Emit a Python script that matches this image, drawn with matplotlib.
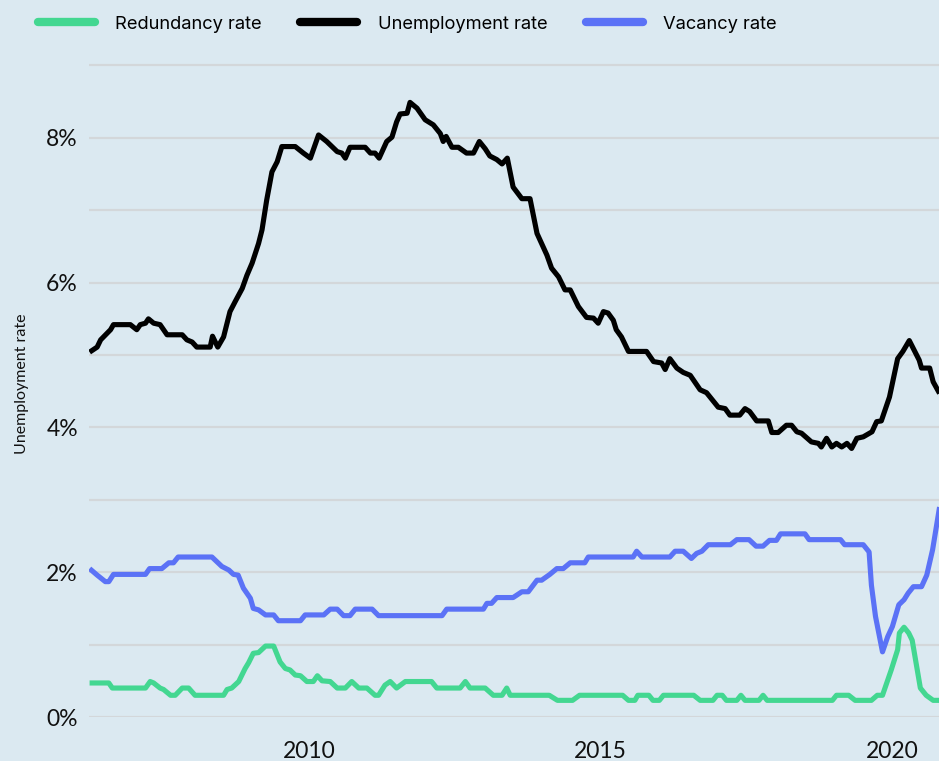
import numpy as np
import matplotlib
matplotlib.use("Agg")
import matplotlib.pyplot as plt

# values (decimal year, percent)
unemp_years = [2006.23, 2006.36, 2006.42, 2006.59, 2006.64, 2006.93, 2007.04, 2007.10, 2007.19, 2007.24,
               2007.33, 2007.44, 2007.56, 2007.82, 2007.90, 2007.99, 2008.07, 2008.30, 2008.34, 2008.43,
               2008.53, 2008.64, 2008.73, 2008.85, 2008.93, 2009.02, 2009.13, 2009.19, 2009.27, 2009.36,
               2009.45, 2009.53, 2009.76, 2009.90, 2010.02, 2010.16, 2010.30, 2010.48, 2010.56, 2010.62,
               2010.70, 2010.96, 2011.05, 2011.13, 2011.20, 2011.33, 2011.42, 2011.50, 2011.56, 2011.68,
               2011.73, 2011.85, 2011.99, 2012.13, 2012.25, 2012.30, 2012.35, 2012.45, 2012.56, 2012.70,
               2012.82, 2012.92, 2013.02, 2013.10, 2013.22, 2013.31, 2013.40, 2013.50, 2013.65, 2013.79,
               2013.91, 2014.08, 2014.16, 2014.28, 2014.39, 2014.48, 2014.62, 2014.76, 2014.88, 2014.96,
               2015.05, 2015.13, 2015.22, 2015.27, 2015.36, 2015.48, 2015.79, 2015.91, 2016.05, 2016.11,
               2016.19, 2016.31, 2016.42, 2016.54, 2016.71, 2016.82, 2017.02, 2017.14, 2017.22, 2017.39,
               2017.48, 2017.56, 2017.68, 2017.88, 2017.94, 2018.05, 2018.19, 2018.28, 2018.37, 2018.45,
               2018.62, 2018.74, 2018.79, 2018.88, 2018.97, 2019.05, 2019.14, 2019.23, 2019.31, 2019.40,
               2019.51, 2019.66, 2019.74, 2019.82, 2019.96, 2020.10, 2020.19, 2020.30, 2020.47, 2020.51,
               2020.65, 2020.71, 2020.82]
unemp_rate = [5.04, 5.11, 5.21, 5.35, 5.42, 5.42, 5.35, 5.42, 5.44, 5.50,
              5.44, 5.42, 5.28, 5.28, 5.21, 5.18, 5.11, 5.11, 5.26, 5.11,
              5.25, 5.60, 5.74, 5.92, 6.10, 6.27, 6.54, 6.73, 7.14, 7.53,
              7.67, 7.88, 7.88, 7.79, 7.72, 8.04, 7.95, 7.81, 7.79, 7.72,
              7.87, 7.87, 7.79, 7.79, 7.72, 7.95, 8.01, 8.22, 8.33, 8.34,
              8.49, 8.41, 8.25, 8.18, 8.06, 7.95, 8.02, 7.87, 7.87, 7.79,
              7.79, 7.95, 7.85, 7.75, 7.70, 7.64, 7.72, 7.32, 7.16, 7.16,
              6.68, 6.38, 6.20, 6.08, 5.90, 5.90, 5.67, 5.52, 5.51, 5.44,
              5.60, 5.58, 5.48, 5.35, 5.25, 5.05, 5.05, 4.91, 4.89, 4.80,
              4.95, 4.82, 4.76, 4.72, 4.52, 4.48, 4.28, 4.26, 4.17, 4.17,
              4.26, 4.22, 4.09, 4.09, 3.93, 3.93, 4.03, 4.03, 3.94, 3.92,
              3.80, 3.78, 3.73, 3.85, 3.73, 3.78, 3.73, 3.78, 3.71, 3.85,
              3.87, 3.94, 4.08, 4.09, 4.42, 4.95, 5.05, 5.20, 4.93, 4.82,
              4.82, 4.63, 4.47]

redund_years = [2006.23, 2006.56, 2006.62, 2007.19, 2007.27, 2007.33, 2007.44, 2007.50, 2007.62, 2007.70,
                2007.82, 2007.93, 2008.04, 2008.53, 2008.59, 2008.67, 2008.79, 2008.90, 2008.96, 2009.04,
                2009.13, 2009.25, 2009.39, 2009.50, 2009.59, 2009.67, 2009.76, 2009.85, 2009.96, 2010.07,
                2010.14, 2010.22, 2010.36, 2010.48, 2010.62, 2010.73, 2010.85, 2010.99, 2011.13, 2011.19,
                2011.30, 2011.39, 2011.50, 2011.65, 2012.10, 2012.19, 2012.59, 2012.68, 2012.76, 2013.02,
                2013.16, 2013.31, 2013.39, 2013.45, 2014.12, 2014.26, 2014.52, 2014.64, 2015.38, 2015.48,
                2015.59, 2015.64, 2015.83, 2015.90, 2016.01, 2016.08, 2016.60, 2016.71, 2016.93, 2017.00,
                2017.09, 2017.16, 2017.34, 2017.41, 2017.48, 2017.72, 2017.79, 2017.86, 2018.98, 2019.05,
                2019.26, 2019.37, 2019.65, 2019.75, 2019.84, 2019.99, 2020.10, 2020.13, 2020.21, 2020.29,
                2020.35, 2020.49, 2020.59, 2020.71, 2020.82]
redund_rate = [0.47, 0.47, 0.40, 0.40, 0.49, 0.47, 0.40, 0.38, 0.30, 0.30,
               0.40, 0.40, 0.30, 0.30, 0.38, 0.40, 0.49, 0.67, 0.75, 0.88,
               0.89, 0.98, 0.98, 0.76, 0.67, 0.65, 0.58, 0.57, 0.49, 0.49,
               0.57, 0.50, 0.49, 0.40, 0.40, 0.49, 0.40, 0.40, 0.30, 0.30,
               0.44, 0.49, 0.40, 0.49, 0.49, 0.40, 0.40, 0.49, 0.40, 0.40,
               0.30, 0.30, 0.40, 0.30, 0.30, 0.23, 0.23, 0.30, 0.30, 0.23,
               0.23, 0.30, 0.30, 0.23, 0.23, 0.30, 0.30, 0.23, 0.23, 0.30,
               0.30, 0.23, 0.23, 0.30, 0.23, 0.23, 0.30, 0.23, 0.23, 0.30,
               0.30, 0.23, 0.23, 0.30, 0.30, 0.65, 0.93, 1.16, 1.24, 1.16,
               1.06, 0.40, 0.30, 0.23, 0.23]

vac_years = [2006.23, 2006.36, 2006.50, 2006.56, 2006.64, 2007.19, 2007.26, 2007.47, 2007.59, 2007.67,
             2007.75, 2008.33, 2008.50, 2008.62, 2008.70, 2008.78, 2008.87, 2008.93, 2008.99, 2009.04,
             2009.13, 2009.25, 2009.39, 2009.47, 2009.85, 2009.93, 2010.25, 2010.36, 2010.48, 2010.59,
             2010.70, 2010.79, 2011.08, 2011.19, 2012.28, 2012.36, 2012.99, 2013.05, 2013.13, 2013.22,
             2013.50, 2013.65, 2013.76, 2013.91, 2013.99, 2014.13, 2014.25, 2014.36, 2014.48, 2014.73,
             2014.79, 2015.56, 2015.62, 2015.71, 2016.19, 2016.28, 2016.42, 2016.56, 2016.65, 2016.74,
             2016.85, 2017.23, 2017.34, 2017.55, 2017.67, 2017.79, 2017.90, 2018.02, 2018.09, 2018.51,
             2018.58, 2019.12, 2019.19, 2019.51, 2019.61, 2019.65, 2019.72, 2019.84, 2019.93, 2020.01,
             2020.12, 2020.21, 2020.28, 2020.37, 2020.51, 2020.60, 2020.70, 2020.82]
vac_rate = [2.05, 1.96, 1.87, 1.87, 1.97, 1.97, 2.05, 2.05, 2.13, 2.13,
            2.21, 2.21, 2.08, 2.03, 1.97, 1.96, 1.78, 1.71, 1.64, 1.50,
            1.48, 1.41, 1.41, 1.33, 1.33, 1.41, 1.41, 1.49, 1.49, 1.40,
            1.40, 1.49, 1.49, 1.40, 1.40, 1.49, 1.49, 1.57, 1.57, 1.65,
            1.65, 1.73, 1.73, 1.89, 1.89, 1.97, 2.05, 2.05, 2.13, 2.13,
            2.21, 2.21, 2.29, 2.21, 2.21, 2.29, 2.29, 2.19, 2.26, 2.29,
            2.38, 2.38, 2.45, 2.45, 2.36, 2.36, 2.44, 2.44, 2.53, 2.53,
            2.45, 2.45, 2.38, 2.38, 2.28, 1.82, 1.39, 0.90, 1.11, 1.25,
            1.55, 1.62, 1.71, 1.80, 1.80, 1.96, 2.31, 2.90]

labels = ['Redundancy rate', 'Unemployment rate', 'Vacancy rate']
colors = ['#43d791', '#000000', '#5b72f6']
x_ticks = [2010, 2015, 2020]
y_ticks = [0, 2, 4, 6, 8]

bg = '#dbe9f1'
plt.rcParams['font.family'] = ['Lato', 'DejaVu Sans']

fig = plt.figure(figsize=(9.39, 7.61), dpi=100, facecolor=bg)
ax = fig.add_axes([89 / 939, 44 / 761, 850 / 939, 666 / 761])
ax.set_facecolor(bg)

series = [(redund_years, redund_rate), (unemp_years, unemp_rate), (vac_years, vac_rate)]
for (xs, ys), lab, col in zip(series, labels, colors):
    ax.plot(xs, ys, color=col, lw=3.7, label=lab,
            solid_joinstyle='round', solid_capstyle='butt', zorder=3)

ax.set_xlim(2006.22, 2020.81)
ax.set_ylim(0, 9.2)

# grid every 1%, labels every 2%
for g in range(0, 10):
    ax.axhline(g, color='#d3d7da', lw=1.6, zorder=1)

ax.set_yticks(y_ticks)
ax.set_yticklabels([f'{t}%' for t in y_ticks])
ax.set_xticks(x_ticks)
ax.set_xticklabels([str(t) for t in x_ticks])
ax.tick_params(axis='y', length=0, pad=8, labelsize=16.5, colors='#111111')
ax.tick_params(axis='x', length=0, pad=17, labelsize=16.5, colors='#111111')
for s in ax.spines.values():
    s.set_visible(False)

ax.set_ylabel('Unemployment rate', fontsize=11.5, color='#111111', labelpad=12)

leg_handles = []
for col in colors:
    lh, = ax.plot([], [], color=col, lw=6, solid_capstyle='round')
    leg_handles.append(lh)
fig.legend(leg_handles, labels, loc='upper left', bbox_to_anchor=(0.0237, 1.0), ncol=3,
           frameon=False, prop={'family': ['Inter', 'DejaVu Sans'], 'size': 13.2},
           handlelength=3.1, handletextpad=1.12, columnspacing=2.1, borderaxespad=0.45)

fig.savefig('out.png', dpi=100, facecolor=bg)
